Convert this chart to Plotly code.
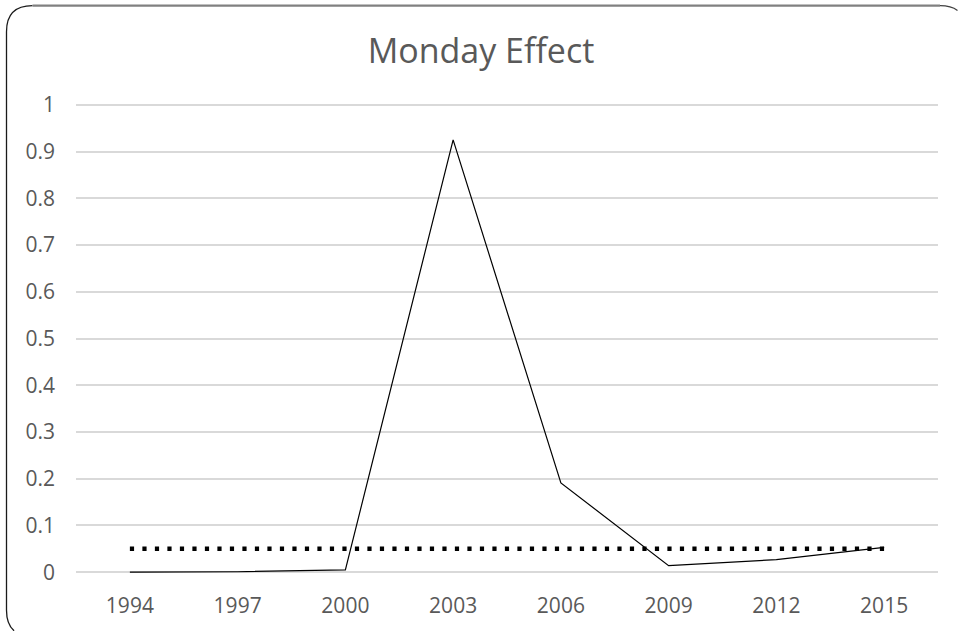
import plotly.graph_objects as go

years = ["1994", "1997", "2000", "2003", "2006", "2009", "2012", "2015"]
monday_effect = [0.0, 0.001, 0.005, 0.925, 0.191, 0.014, 0.027, 0.053]
threshold = [0.05, 0.05, 0.05, 0.05, 0.05, 0.05, 0.05, 0.05]
y_ticks = [0, 0.1, 0.2, 0.3, 0.4, 0.5, 0.6, 0.7, 0.8, 0.9, 1]
y_tick_text = ["0", "0.1", "0.2", "0.3", "0.4", "0.5", "0.6", "0.7", "0.8", "0.9", "1"]

W, H = 958, 631
PAD = 0.006
ML, MR = 76, 20
MT = 105 - PAD * 467
MB = 59 - PAD * 467
PW = W - ML - MR
PH = H - MT - MB


def px(x):
    return (x - ML) / PW


def py(y):
    return (H - MB - y) / PH


def split_quad(p0, p1, p2, t):
    """First part of a quadratic Bezier up to parameter t."""
    q1 = (p0[0] + t * (p1[0] - p0[0]), p0[1] + t * (p1[1] - p0[1]))
    r1 = (p1[0] + t * (p2[0] - p1[0]), p1[1] + t * (p2[1] - p1[1]))
    q2 = (q1[0] + t * (r1[0] - q1[0]), q1[1] + t * (r1[1] - q1[1]))
    return q1, q2


def pt(p):
    return f"{px(p[0])},{py(p[1])}"


fig = go.Figure()
fig.add_trace(go.Scatter(
    x=years, y=threshold, mode="lines",
    line=dict(color="black", width=4.5, dash="4.2px,8.3px"),
    hoverinfo="skip", showlegend=False,
))
fig.add_trace(go.Scatter(
    x=years, y=monday_effect, mode="lines",
    line=dict(color="black", width=1.2),
    showlegend=False,
))

# rounded chart-area border; only the part inside the picture is drawn
L, T, R, B, r = 6.5, 6, 966, 636, 26
EDGE_X, EDGE_Y = W - 0.5, H - 0.5
t_bl = 1 - ((B - EDGE_Y) / r) ** 0.5
c_bl, e_bl = split_quad((L, B - r), (L, B), (L + r, B), t_bl)
t_tr = 1 - ((R - EDGE_X) / r) ** 0.5
c_tr, e_tr = split_quad((R - r, T), (R, T), (R, T + r), t_tr)

left_path = (f"M {pt((L + r, T))} Q {pt((L, T))} {pt((L, T + r))} "
             f"L {pt((L, B - r))} Q {pt(c_bl)} {pt(e_bl)}")
fig.add_shape(type="path", xref="paper", yref="paper", path=left_path,
              line=dict(color="#1a1a1a", width=1.3), layer="above")
tr_path = f"M {pt((R - r, T))} Q {pt(c_tr)} {pt(e_tr)}"
fig.add_shape(type="path", xref="paper", yref="paper", path=tr_path,
              line=dict(color="#404040", width=1.3), layer="above")
fig.add_shape(type="line", xref="paper", yref="paper",
              x0=px(L + r), x1=px(R - r), y0=py(T), y1=py(T),
              line=dict(color="#808080", width=2.2), layer="above")

fig.update_layout(
    width=W, height=H,
    margin=dict(l=ML, r=MR, t=MT, b=MB),
    paper_bgcolor="white", plot_bgcolor="white",
    title=dict(text="Monday Effect", x=481 / W, xref="container", xanchor="center",
               y=1 - 51 / H, yref="container", yanchor="middle",
               font=dict(family="Open Sans", size=34, color="#595959")),
    font=dict(family="Open Sans", size=21, color="#595959"),
    xaxis=dict(type="category", range=[-0.5, 7.5], showgrid=False, zeroline=False,
               showline=False, ticks="", ticklabelstandoff=16,
               tickfont=dict(family="Open Sans", size=21, color="#595959")),
    yaxis=dict(range=[-PAD, 1 + PAD], tickvals=y_ticks, ticktext=y_tick_text,
               showgrid=True, gridcolor="#d9d9d9", gridwidth=1.5, zeroline=False,
               showline=False, ticks="", ticklabelstandoff=20,
               tickfont=dict(family="Open Sans", size=21, color="#595959")),
)

fig.write_html(
    "out.html",
    config={"displayModeBar": False},
    post_script=("document.body.style.margin='0';"
                 "document.body.style.overflow='hidden';"
                 "document.documentElement.style.overflow='hidden';"),
)
